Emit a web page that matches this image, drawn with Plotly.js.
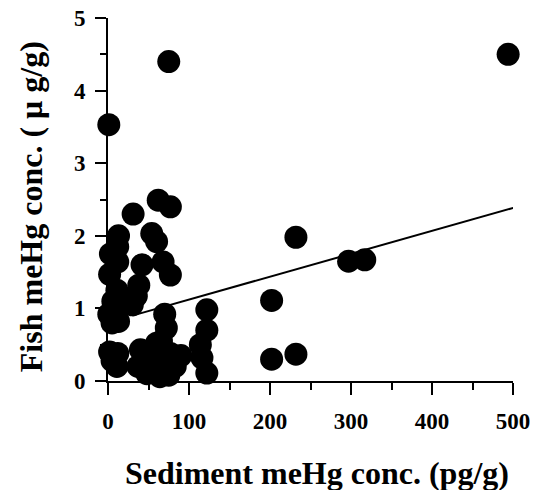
<!DOCTYPE html>
<html>
<head>
<meta charset="utf-8">
<script src="https://cdn.plot.ly/plotly-3.0.1.min.js"></script>
<style>html,body{margin:0;padding:0;background:#fff;}#chart{width:539px;height:490px;}</style>
</head>
<body>
<div id="chart"></div>
<script>
// Sediment meHg conc. (pg/g)
const sedimentX = [
  494, 75, 1, 232, 297, 317, 202, 202, 232,
  122, 122, 114, 116, 122,
  31, 62, 77, 54, 60, 68, 77,
  13, 12, 3, 12, 2, 11, 6, 9, 1, 13, 5, 2, 12, 11, 5,
  42, 38, 35, 30,
  70, 72, 66,
  40, 37, 52, 60, 64, 77, 83, 48, 90, 70, 56, 75
];
// Fish meHg conc. (µg/g)
const fishY = [
  4.50, 4.40, 3.53, 1.98, 1.65, 1.67, 1.11, 0.30, 0.37,
  0.98, 0.70, 0.50, 0.32, 0.11,
  2.30, 2.49, 2.40, 2.03, 1.92, 1.64, 1.46,
  2.00, 1.85, 1.75, 1.64, 1.47, 1.25, 1.10, 0.98, 0.92, 0.82, 0.80, 0.40, 0.38, 0.20, 0.28,
  1.60, 1.32, 1.17, 1.05,
  0.92, 0.73, 0.55,
  0.43, 0.20, 0.33, 0.52, 0.06, 0.38, 0.20, 0.10, 0.35, 0.25, 0.15, 0.08
];
// Regression line endpoints
const fitX = [30, 502];
const fitY = [0.90, 2.39];

const xTickVals = [0, 100, 200, 300, 400, 500];
const xTickText = ['0', '100', '200', '300', '400', '500'];
const yTickVals = [0, 1, 2, 3, 4, 5];
const yTickText = ['0', '1', '2', '3', '4', '5'];
const xTitle = 'Sediment meHg conc. (pg/g)';
const yTitle = 'Fish meHg conc. ( μ g/g)';

const serif = 'Liberation Serif, Times New Roman, serif';
const bold = s => '<b>' + s + '</b>';

const traces = [
  {
    x: sedimentX, y: fishY, type: 'scatter', mode: 'markers',
    marker: {size: 23, color: '#000'},
    cliponaxis: false, showlegend: false
  },
  {
    x: fitX, y: fitY, type: 'scatter', mode: 'lines',
    line: {color: '#000', width: 2},
    cliponaxis: false, showlegend: false
  }
];

const layout = {
  width: 539, height: 490,
  margin: {l: 108, r: 26, t: 18, b: 109},
  paper_bgcolor: '#fff', plot_bgcolor: '#fff',
  showlegend: false,
  font: {family: serif, color: '#000'},
  xaxis: {
    range: [0, 500], showgrid: false, zeroline: false,
    showline: true, linecolor: '#000', linewidth: 2,
    ticks: 'outside', ticklen: 12, tickwidth: 2, tickcolor: '#000',
    tickvals: xTickVals, ticktext: xTickText.map(bold),
    ticklabelstandoff: 6,
    minor: {dtick: 50, ticks: 'outside', ticklen: 7, tickwidth: 2, tickcolor: '#000', showgrid: false},
    tickfont: {family: serif, size: 23, color: '#000'}
  },
  yaxis: {
    range: [0, 5], showgrid: false, zeroline: false,
    showline: true, linecolor: '#000', linewidth: 2,
    ticks: 'outside', ticklen: 11, tickwidth: 2, tickcolor: '#000',
    tickvals: yTickVals, ticktext: yTickText.map(bold),
    ticklabelstandoff: 5,
    minor: {dtick: 0.5, ticks: 'outside', ticklen: 6, tickwidth: 2, tickcolor: '#000', showgrid: false},
    tickfont: {family: serif, size: 23, color: '#000'}
  },
  annotations: [
    {text: bold(xTitle), xref: 'paper', yref: 'paper', x: 0.516, y: -0.2534,
     xanchor: 'center', yanchor: 'middle', showarrow: false,
     font: {family: serif, size: 32, color: '#000'}},
    {text: bold(yTitle), xref: 'paper', yref: 'paper', x: -0.190, y: 0.479,
     xanchor: 'center', yanchor: 'middle', textangle: -90, showarrow: false,
     font: {family: serif, size: 32, color: '#000'}}
  ]
};

Plotly.newPlot('chart', traces, layout, {staticPlot: true, displayModeBar: false});
</script>
</body>
</html>
